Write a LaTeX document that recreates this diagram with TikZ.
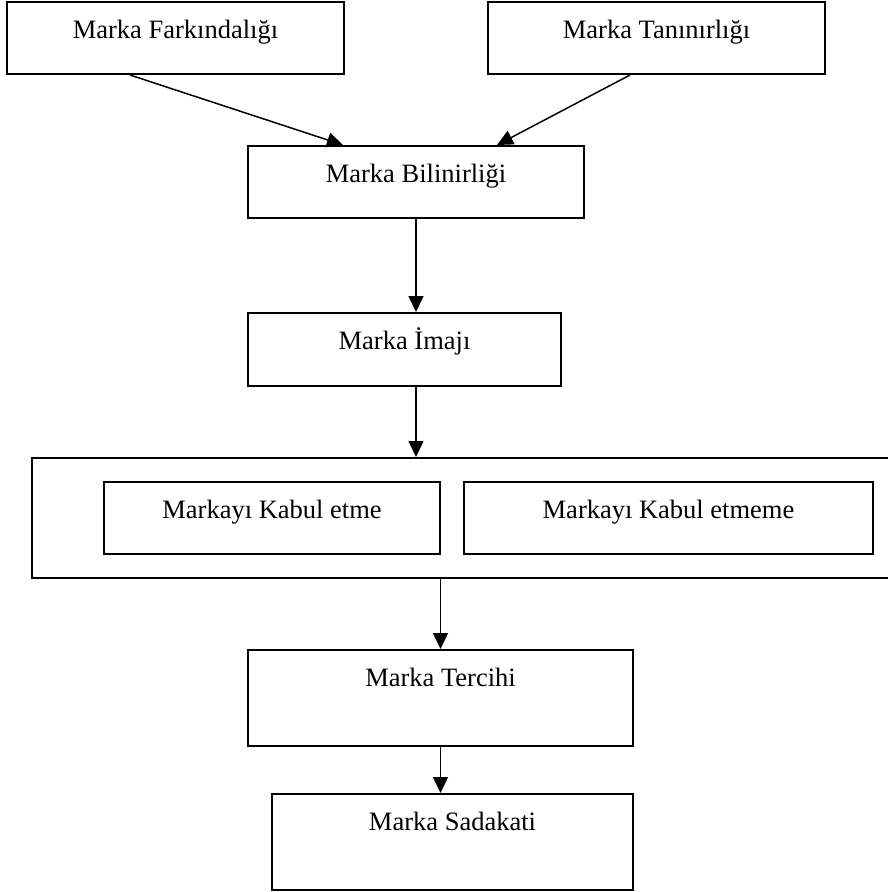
\documentclass[tikz,border=0pt]{standalone}
\usepackage{fontspec}
\setmainfont{Liberation Serif}
\usetikzlibrary{arrows.meta}

\tikzset{
  kutu/.style 2 args={draw, line width=2pt, inner sep=0pt, minimum width=#1,
    text height=36pt, text depth=#2, font=\fontsize{26.5}{30}\selectfont},
  ok/.style={arrows={-{Triangle[length=16pt,width=15pt]}}, line width=1.5pt}
}

\begin{document}
\begin{tikzpicture}[x=1pt, y=-1pt]
\useasboundingbox (0,0) rectangle (888,892);

\node[kutu={337pt}{36pt}] at (175.5,38) (fark) {Marka Farkındalığı};
\node[kutu={337pt}{36pt}] at (656.5,38) (tani) {Marka Tanınırlığı};
\node[kutu={336pt}{36pt}] at (416,182) (bilin) {Marka Bilinirliği};
\node[kutu={313pt}{37pt}] at (404.5,349.5) (imaj) {Marka İmajı};
\node[kutu={860pt}{84pt}] at (462,518) (dis) {};
\node[kutu={336pt}{36pt}] at (272,518) (kabul) {Markayı Kabul etme};
\node[kutu={409pt}{36pt}] at (668.5,518) (red) {Markayı Kabul etmeme};
\node[kutu={385pt}{60pt}] at (440.5,698) (tercih) {Marka Tercihi};
\node[kutu={361pt}{60pt}] at (452.5,842) (sadakat) {Marka Sadakati};

\draw[ok] ([xshift=-45.5pt]fark.south) to ([xshift=-73pt]bilin.north);
\draw[ok] ([xshift=-26.5pt]tani.south) to ([xshift=81pt]bilin.north);
\draw[ok] (bilin.south) to (bilin.south |- imaj.north);
\draw[ok] (bilin.south |- imaj.south) to (bilin.south |- dis.north);
\draw[ok] (tercih.north |- dis.south) to (tercih.north);
\draw[ok] (tercih.south) to (tercih.south |- sadakat.north);
\end{tikzpicture}
\end{document}
